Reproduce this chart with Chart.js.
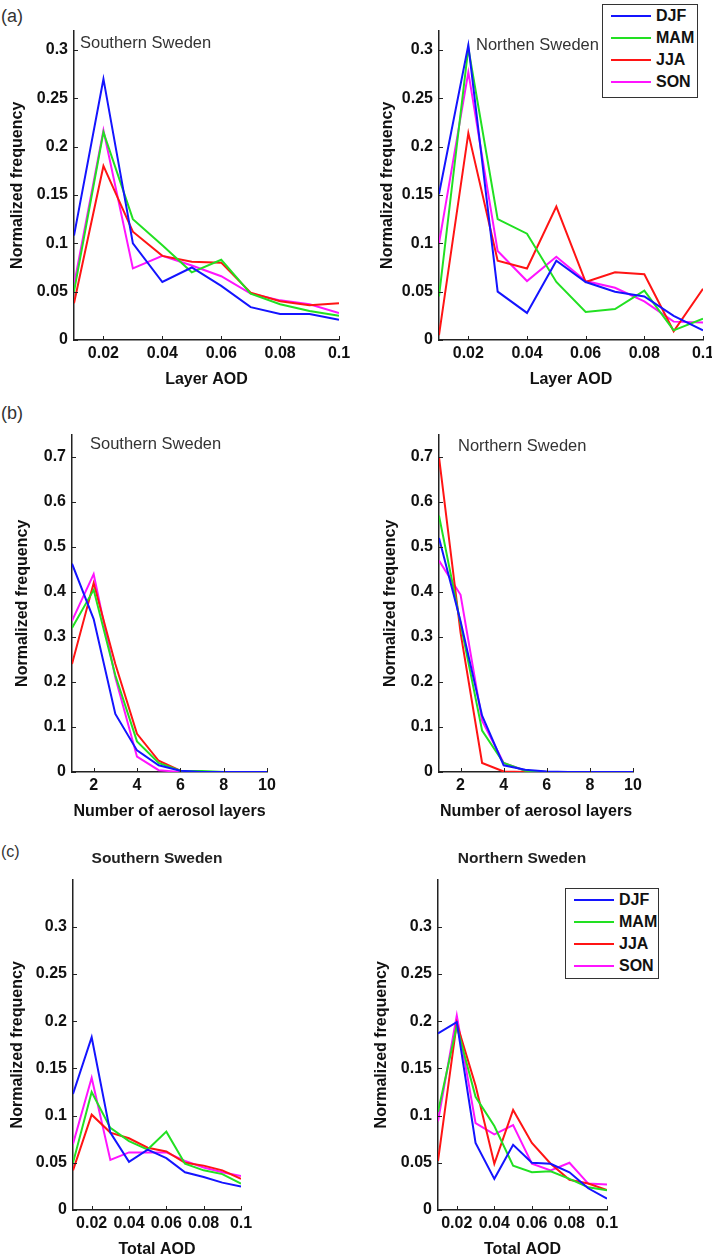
<!DOCTYPE html>
<html>
<head>
<meta charset="utf-8">
<script src="https://cdn.jsdelivr.net/npm/chart.js@4.4.0/dist/chart.umd.min.js"></script>
<style>
  html, body { margin: 0; padding: 0; background: #fff; overflow: hidden; }
  body { width: 712px; height: 1256px; position: relative; font-family: "Liberation Sans", Arial, sans-serif; }
  .panel { position: absolute; }
  .txt { position: absolute; white-space: nowrap; transform: translateY(-50%); color: #333; }
  .legend { position: absolute; border: 1.5px solid #333; background: #fff; box-sizing: border-box; }
  .legend .row { position: absolute; left: 0; height: 0; }
  .legend .sw { position: absolute; left: 8px; width: 40px; height: 2px; top: -1px; }
  .legend .lb { position: absolute; left: 53px; top: -10px; font: bold 16px "Liberation Sans", Arial, sans-serif; color: #111; line-height: 20px; }
</style>
</head>
<body>

<div class="txt" style="left:1px; top:16px; font-size:18px;">(a)</div>
<div class="txt" style="left:1px; top:413px; font-size:18px;">(b)</div>
<div class="txt" style="left:1px; top:852px; font-size:16px;">(c)</div>

<div class="panel" id="pA1"><canvas id="cA1"></canvas></div>
<div class="panel" id="pA2"><canvas id="cA2"></canvas></div>
<div class="panel" id="pB1"><canvas id="cB1"></canvas></div>
<div class="panel" id="pB2"><canvas id="cB2"></canvas></div>
<div class="panel" id="pC1"><canvas id="cC1"></canvas></div>
<div class="panel" id="pC2"><canvas id="cC2"></canvas></div>

<div class="txt" style="left:80px; top:42px; font-size:16.5px;">Southern Sweden</div>
<div class="txt" style="left:476px; top:44px; font-size:16.5px;">Northen Sweden</div>
<div class="txt" style="left:90px; top:443px; font-size:16.5px;">Southern Sweden</div>
<div class="txt" style="left:458px; top:445px; font-size:16.5px;">Northern Sweden</div>
<div class="txt" style="left:157px; top:858px; font-size:15.5px; font-weight:bold; color:#222; transform:translate(-50%,-50%);">Southern Sweden</div>
<div class="txt" style="left:522px; top:858px; font-size:15.5px; font-weight:bold; color:#222; transform:translate(-50%,-50%);">Northern Sweden</div>

<div class="legend" id="legA" style="left:602px; top:4px; width:96px; height:94px;"></div>
<div class="legend" id="legC" style="left:565px; top:888px; width:94px; height:91px;"></div>

<script>
// season names and colours
const seasons = ["DJF", "MAM", "JJA", "SON"];
const seasonColors = ["#1414ff", "#22e022", "#ff1414", "#ff14ff"];

// x values
const aodBins = [0.01, 0.02, 0.03, 0.04, 0.05, 0.06, 0.07, 0.08, 0.09, 0.1];
const layerCounts = [1, 2, 3, 4, 5, 6, 7, 8, 9, 10];

// tick values
const aodTicks = [0.02, 0.04, 0.06, 0.08, 0.1];
const countTicks = [2, 4, 6, 8, 10];
const freqTicksAod = [0, 0.05, 0.1, 0.15, 0.2, 0.25, 0.3];
const freqTicksCount = [0, 0.1, 0.2, 0.3, 0.4, 0.5, 0.6, 0.7];

// (a) layer AOD, Southern Sweden
const layerAodSouthDJF = [0.108, 0.270, 0.100, 0.060, 0.075, 0.056, 0.034, 0.027, 0.027, 0.021];
const layerAodSouthMAM = [0.050, 0.215, 0.125, 0.098, 0.070, 0.083, 0.048, 0.037, 0.030, 0.025];
const layerAodSouthJJA = [0.038, 0.180, 0.112, 0.087, 0.081, 0.080, 0.049, 0.040, 0.036, 0.038];
const layerAodSouthSON = [0.057, 0.217, 0.074, 0.087, 0.077, 0.066, 0.048, 0.041, 0.037, 0.028];

// (a) layer AOD, Northern Sweden
const layerAodNorthDJF = [0.151, 0.305, 0.050, 0.028, 0.082, 0.060, 0.050, 0.045, 0.025, 0.010];
const layerAodNorthMAM = [0.045, 0.302, 0.125, 0.110, 0.060, 0.029, 0.032, 0.051, 0.010, 0.022];
const layerAodNorthJJA = [0.005, 0.214, 0.082, 0.074, 0.138, 0.060, 0.070, 0.068, 0.009, 0.053];
const layerAodNorthSON = [0.100, 0.277, 0.092, 0.061, 0.086, 0.061, 0.054, 0.040, 0.019, 0.018];

// (b) number of aerosol layers, Southern Sweden
const countSouthDJF = [0.463, 0.340, 0.129, 0.048, 0.015, 0.003, 0, 0, 0, 0];
const countSouthMAM = [0.320, 0.405, 0.215, 0.068, 0.020, 0.003, 0.002, 0, 0, 0];
const countSouthJJA = [0.240, 0.420, 0.240, 0.085, 0.025, 0.003, 0, 0, 0, 0];
const countSouthSON = [0.336, 0.440, 0.210, 0.034, 0.004, 0, 0, 0, 0, 0];

// (b) number of aerosol layers, Northern Sweden
const countNorthDJF = [0.520, 0.335, 0.125, 0.015, 0.005, 0.001, 0, 0, 0, 0];
const countNorthMAM = [0.570, 0.330, 0.092, 0.020, 0.003, 0, 0, 0, 0, 0];
const countNorthJJA = [0.700, 0.310, 0.020, 0.001, 0, 0, 0, 0, 0, 0];
const countNorthSON = [0.470, 0.394, 0.114, 0.020, 0.003, 0, 0, 0, 0, 0];

// (c) total AOD, Southern Sweden
const totalAodSouthDJF = [0.123, 0.183, 0.082, 0.051, 0.064, 0.055, 0.040, 0.035, 0.029, 0.025];
const totalAodSouthMAM = [0.050, 0.125, 0.087, 0.073, 0.064, 0.083, 0.049, 0.042, 0.038, 0.028];
const totalAodSouthJJA = [0.042, 0.101, 0.082, 0.076, 0.066, 0.062, 0.050, 0.047, 0.042, 0.033];
const totalAodSouthSON = [0.070, 0.140, 0.053, 0.061, 0.061, 0.061, 0.052, 0.045, 0.040, 0.036];

// (c) total AOD, Northern Sweden
const totalAodNorthDJF = [0.187, 0.199, 0.071, 0.033, 0.069, 0.050, 0.049, 0.040, 0.023, 0.012];
const totalAodNorthMAM = [0.104, 0.195, 0.120, 0.089, 0.047, 0.040, 0.041, 0.033, 0.024, 0.021];
const totalAodNorthJJA = [0.052, 0.198, 0.132, 0.049, 0.106, 0.071, 0.049, 0.032, 0.028, 0.021];
const totalAodNorthSON = [0.094, 0.206, 0.092, 0.080, 0.090, 0.049, 0.042, 0.050, 0.028, 0.027];

const AXIS_W = 70;   // room left of the plot for y labels + title
const AXIS_H = 50;   // room below the plot for x labels + title
const TITLE_SIZE = 16;

// small tick marks pointing into the plot, like the original
const inwardTicks = {
  id: 'inwardTicks',
  afterDatasetsDraw(chart) {
    const { ctx, chartArea: a, scales: { x, y } } = chart;
    ctx.save();
    ctx.strokeStyle = '#222';
    ctx.lineWidth = 1;
    ctx.beginPath();
    x.ticks.forEach(t => {
      const px = Math.round(x.getPixelForValue(t.value)) + 0.5;
      ctx.moveTo(px, a.bottom);
      ctx.lineTo(px, a.bottom - 4);
    });
    y.ticks.forEach(t => {
      const py = Math.round(y.getPixelForValue(t.value)) + 0.5;
      ctx.moveTo(a.left, py);
      ctx.lineTo(a.left + 4, py);
    });
    ctx.stroke();
    ctx.restore();
  }
};

function makePanel(id, box, xs, series, xOpt, yOpt) {
  const holder = document.getElementById('p' + id);
  holder.style.left = (box.left - AXIS_W) + 'px';
  holder.style.top = (box.top - 10) + 'px';
  holder.style.width = (box.right - box.left + AXIS_W + 22) + 'px';
  holder.style.height = (box.bottom - box.top + 10 + AXIS_H) + 'px';

  const datasets = series.map((vals, i) => ({
    label: seasons[i],
    data: vals.map((v, k) => ({ x: xs[k], y: v })),
    borderColor: seasonColors[i],
    borderWidth: 2,
    pointRadius: 0,
    tension: 0,
    fill: false
  }));

  const tickFont = { family: '"Liberation Sans", Arial, sans-serif', size: 16, weight: 'bold' };
  const titleFont = { family: '"Liberation Sans", Arial, sans-serif', size: TITLE_SIZE, weight: 'bold' };
  const halfLine = TITLE_SIZE * 1.2 / 2;

  new Chart(document.getElementById('c' + id), {
    type: 'line',
    data: { datasets },
    options: {
      animation: false,
      responsive: true,
      maintainAspectRatio: false,
      layout: { padding: { left: 0, top: 10, right: 22, bottom: 0 } },
      plugins: { legend: { display: false }, tooltip: { enabled: false } },
      scales: {
        x: {
          type: 'linear',
          min: xOpt.min,
          max: xOpt.max,
          afterBuildTicks: s => { s.ticks = xOpt.ticks.map(v => ({ value: v })); },
          afterFit: s => { s.height = AXIS_H; },
          grid: { display: false, drawTicks: false },
          border: { display: true, color: '#222', width: 1.5 },
          ticks: { autoSkip: false, maxRotation: 0, padding: 4, color: '#111', font: tickFont,
                   callback: v => String(v) },
          title: { display: true, text: xOpt.title, color: '#111', font: titleFont,
                   padding: { top: 0, bottom: 1 } }
        },
        y: {
          type: 'linear',
          min: 0,
          max: yOpt.max,
          afterBuildTicks: s => { s.ticks = yOpt.ticks.map(v => ({ value: v })); },
          afterFit: s => { s.width = AXIS_W; },
          grid: { display: false, drawTicks: false },
          border: { display: true, color: '#222', width: 1.5 },
          ticks: { autoSkip: false, padding: 6, color: '#111', font: tickFont,
                   callback: v => String(v) },
          title: { display: true, text: 'Normalized frequency', color: '#111', font: titleFont,
                   padding: { top: AXIS_W - yOpt.titleDist - halfLine, bottom: 0 } }
        }
      }
    },
    plugins: [inwardTicks]
  });
}

const aodX = { min: 0.01, max: 0.1, ticks: aodTicks };

makePanel('A1', { left: 74, top: 25, right: 339, bottom: 340 }, aodBins,
  [layerAodSouthDJF, layerAodSouthMAM, layerAodSouthJJA, layerAodSouthSON],
  { ...aodX, title: 'Layer AOD' }, { max: 0.32, ticks: freqTicksAod, titleDist: 56 });
makePanel('A2', { left: 439, top: 25, right: 703, bottom: 340 }, aodBins,
  [layerAodNorthDJF, layerAodNorthMAM, layerAodNorthJJA, layerAodNorthSON],
  { ...aodX, title: 'Layer AOD' }, { max: 0.32, ticks: freqTicksAod, titleDist: 51 });

makePanel('B1', { left: 72, top: 429, right: 267, bottom: 772 }, layerCounts,
  [countSouthDJF, countSouthMAM, countSouthJJA, countSouthSON],
  { min: 1, max: 10, ticks: countTicks, title: 'Number of aerosol layers' },
  { max: 0.75, ticks: freqTicksCount, titleDist: 49 });
makePanel('B2', { left: 439, top: 429, right: 633, bottom: 772 }, layerCounts,
  [countNorthDJF, countNorthMAM, countNorthJJA, countNorthSON],
  { min: 1, max: 10, ticks: countTicks, title: 'Number of aerosol layers' },
  { max: 0.75, ticks: freqTicksCount, titleDist: 48 });

makePanel('C1', { left: 73, top: 874, right: 241, bottom: 1210 }, aodBins,
  [totalAodSouthDJF, totalAodSouthMAM, totalAodSouthJJA, totalAodSouthSON],
  { ...aodX, title: 'Total AOD' }, { max: 0.35, ticks: freqTicksAod, titleDist: 55 });
makePanel('C2', { left: 438, top: 874, right: 607, bottom: 1210 }, aodBins,
  [totalAodNorthDJF, totalAodNorthMAM, totalAodNorthJJA, totalAodNorthSON],
  { ...aodX, title: 'Total AOD' }, { max: 0.35, ticks: freqTicksAod, titleDist: 56 });

// legends (boxes with line swatches)
function fillLegend(id) {
  const box = document.getElementById(id);
  seasons.forEach((s, i) => {
    const row = document.createElement('div');
    row.className = 'row';
    row.style.top = (11 + i * 22) + 'px';
    row.innerHTML = '<div class="sw" style="background:' + seasonColors[i] + '"></div>' +
                    '<div class="lb">' + s + '</div>';
    box.appendChild(row);
  });
}
fillLegend('legA');
fillLegend('legC');
</script>
</body>
</html>
